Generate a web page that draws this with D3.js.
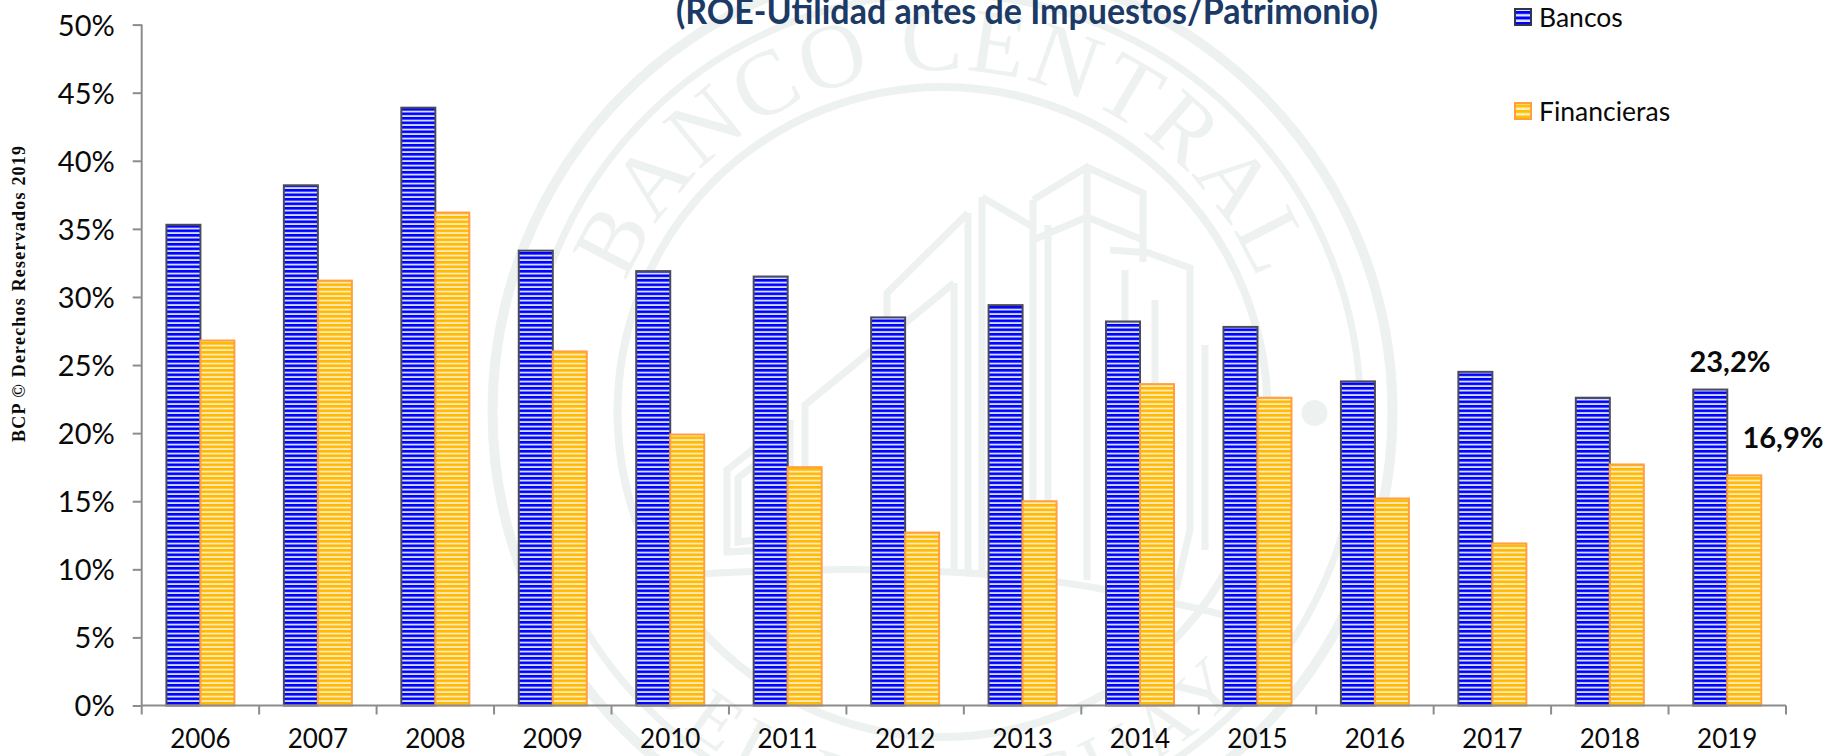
<!DOCTYPE html>
<html><head><meta charset="utf-8">
<script src="https://cdn.jsdelivr.net/npm/d3@7"></script>
<style>
html,body{margin:0;padding:0;background:#fff;overflow:hidden}
svg{display:block}
text{font-family:Lato,"Noto Sans",sans-serif;fill:#0a0a0a}
</style></head><body>
<svg id="c" width="1825" height="756"></svg>
<script>
const years = ["2006","2007","2008","2009","2010","2011","2012","2013","2014","2015","2016","2017","2018","2019"];
const bancos = [35.3,38.2,43.9,33.4,31.9,31.5,28.5,29.4,28.2,27.8,23.8,24.5,22.6,23.2];
const financieras = [26.8,31.2,36.2,26.0,19.9,17.5,12.7,15.0,23.6,22.6,15.2,11.9,17.7,16.9];
const seriesNames = ["Bancos","Financieras"];
const yTicks = [0,5,10,15,20,25,30,35,40,45,50];
const titleText = "(ROE-Utilidad antes de Impuestos/Patrimonio)";
const sideNote = "BCP © Derechos Reservados 2019";
const sealTop = "BANCO CENTRAL";
const sealBottom = "DEL PARAGUAY";
const sealRings = [[450,10],[418,7],[325,8]];
const sealLines = [
 "M1033,200 L1087,167 L1143,193 L1143,262",
 "M1033,240 L1087,217 L1143,240",
 "M1087,167 L1087,580",
 "M1033,200 L1033,578","M1048,225 L1048,578",
 "M982,197 L1033,227","M982,197 L982,575","M968,213 L968,575",
 "M968,213 L887,293 L887,350",
 "M954,283 L954,575","M954,283 L805,405 L805,575",
 "M790,420 L790,575",
 "M727,470 L765,440 L765,550 L727,552 Z","M738,478 L755,465 L755,540 L738,542 Z",
 "M1149,253 L1190,268 L1190,530 L1176,590","M1205,345 L1205,550",
 "M1110,250 L1150,253","M1125,270 L1125,590","M1155,300 L1155,580",
 "M700,574 Q950,560 1107,590 T1240,625"
];

const W=1825,H=756;
const svg=d3.select("#c");
const defs=svg.append("defs");
function stripes(id,bg,fg,period,band){
  const p=defs.append("pattern").attr("id",id).attr("patternUnits","userSpaceOnUse")
    .attr("width",8).attr("height",period);
  p.append("rect").attr("width",8).attr("height",period).attr("fill",bg);
  p.append("rect").attr("width",8).attr("height",band).attr("fill",fg);
}
stripes("pb","#d3dfff","#0000ff",4.5,2.6);
stripes("po","#ffeabb","#ffb900",4.5,2.6);
stripes("lb","#dfe6ff","#0000ff",5.5,3);
stripes("lo","#ffeec6","#ffc000",5.5,3);

// watermark seal
const cx=942.5,cy=412,wm="#edf1ef";
const seal=svg.append("g");
seal.selectAll("circle.ring").data(sealRings).join("circle")
  .attr("cx",cx).attr("cy",cy).attr("r",d=>d[0]).attr("fill","none").attr("stroke",wm).attr("stroke-width",d=>d[1]);
seal.selectAll("path.l").data(sealLines).join("path").attr("d",d=>d)
  .attr("fill","none").attr("stroke",wm).attr("stroke-width",7).attr("stroke-linejoin","miter");
[cx-372,cx+372].forEach(x=>seal.append("circle").attr("cx",x).attr("cy",413).attr("r",13).attr("fill",wm));
const rt=342, rb=408;
defs.append("path").attr("id","arcT").attr("d",`M${cx-rt},${cy} A${rt},${rt} 0 0 1 ${cx+rt},${cy}`);
defs.append("path").attr("id","arcB").attr("d",`M${cx-rb},${cy} A${rb},${rb} 0 0 0 ${cx+rb},${cy}`);
seal.append("text").style("font-family","'Liberation Serif',serif").style("fill",wm).style("font-size","92px")
  .attr("text-anchor","middle").style("letter-spacing","3px")
  .append("textPath").attr("href","#arcT").attr("startOffset","50%").text(sealTop);
seal.append("text").style("font-family","'Liberation Serif',serif").style("fill",wm).style("font-size","76px")
  .attr("text-anchor","middle").style("letter-spacing","10px")
  .append("textPath").attr("href","#arcB").attr("startOffset","50%").text(sealBottom);

// scales
const x0=d3.scaleBand().domain(years).range([141.7,1786]);
const half=34;
const x1=d3.scaleBand().domain(seriesNames).range([x0.bandwidth()/2-half,x0.bandwidth()/2+half]);
const y=d3.scaleLinear().domain([0,50]).range([705.5,24.6]);

const series=[{name:"Bancos",vals:bancos,fill:"url(#pb)",stroke:"#4a4a5a"},
              {name:"Financieras",vals:financieras,fill:"url(#po)",stroke:"#ff9f40"}];
series.forEach(s=>{
  svg.append("g").selectAll("rect").data(years.map((yr,i)=>({yr,v:s.vals[i]}))).join("rect")
    .attr("x",d=>x0(d.yr)+x1(s.name)).attr("width",x1.bandwidth())
    .attr("y",d=>y(d.v)).attr("height",d=>y(0)-y(d.v))
    .attr("fill",s.fill).attr("stroke",s.stroke).attr("stroke-width",2);
});

// axes
const axisColor="#8c8c8c";
const gy=svg.append("g").attr("transform","translate(141.7,0)")
  .call(d3.axisLeft(y).tickValues(yTicks).tickFormat(d=>d+"%").tickSize(9).tickPadding(18));
gy.selectAll("path,line").attr("stroke",axisColor).attr("stroke-width",2);
gy.select("path").attr("d",`M0,${y(50)}V${y(0)}`);
gy.selectAll("text").style("font-size","29px").style("font-family","Lato").attr("fill","#0a0a0a").attr("dy","0.36em");

const gx=svg.append("g").attr("transform",`translate(0,${y(0)})`)
  .call(d3.axisBottom(x0).tickSize(0).tickPadding(26));
gx.select("path").attr("stroke",axisColor).attr("stroke-width",2).attr("d",`M141.7,0H1786`);
gx.selectAll("text").style("font-size","26px").style("font-family","Lato").attr("fill","#0a0a0a").attr("dy","0.62em");
const edges=[...years.map(d=>x0(d)),x0.range()[1]];
gx.append("g").selectAll("line").data(edges).join("line")
  .attr("x1",d=>d).attr("x2",d=>d).attr("y1",0).attr("y2",9).attr("stroke",axisColor).attr("stroke-width",2);

// title
svg.append("text").attr("x",1027).attr("y",24).attr("text-anchor","middle")
  .attr("textLength",702).attr("lengthAdjust","spacingAndGlyphs")
  .style("font-size","36px").style("font-weight","700").style("fill","#1b3a66").text(titleText);

// legend
const legY=[9,103], legBase=[27,121];
seriesNames.forEach((n,i)=>{
  svg.append("rect").attr("x",1515).attr("y",legY[i]).attr("width",16).attr("height",16)
    .attr("fill",i?"url(#lo)":"url(#lb)").attr("stroke",i?"#ff9f40":"#333350").attr("stroke-width",2);
  svg.append("text").attr("x",1539).attr("y",legBase[i]).style("font-size","26.5px").text(n);
});

// value labels
svg.append("text").attr("x",1730).attr("y",372).attr("text-anchor","middle").style("font-size","29px").style("font-weight","700").text(bancos[13].toFixed(1).replace(".",",")+"%");
svg.append("text").attr("x",1783).attr("y",448).attr("text-anchor","middle").style("font-size","29px").style("font-weight","700").text(financieras[13].toFixed(1).replace(".",",")+"%");

// rotated note
svg.append("text").attr("transform","translate(25,294) rotate(-90)").attr("text-anchor","middle")
  .attr("textLength",296).style("font-family","'Liberation Serif',serif").style("font-weight","700").style("font-size","18px").text(sideNote);
</script>
</body></html>
